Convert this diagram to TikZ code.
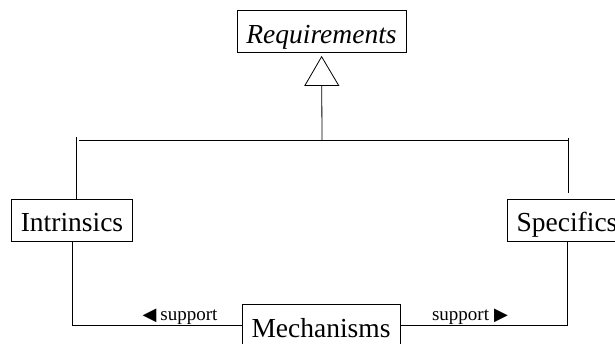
\documentclass[tikz,border=0pt]{standalone}
\usepackage{fontspec}
\setmainfont{Liberation Serif}
\newfontfamily\symfont{DejaVu Sans}
\usetikzlibrary{arrows.meta}

\begin{document}
\begin{tikzpicture}[x=1pt, y=-1pt, line width=0.8pt,
	main/.style = {draw, inner xsep=9.5pt, inner ysep=0pt, minimum height=42pt, text height=24pt, text depth=0.6pt, font=\fontsize{27.5}{32}\selectfont},
	lbl/.style = {anchor=base, inner sep=0pt, font=\fontsize{19}{22}\selectfont}]
	\useasboundingbox (0,0) rectangle (615,343);

		\node[main] (1) at (321.5,31.5) {\textit{Requirements}};
		\node[main] (2) at (72,220) {Intrinsics};
		\node[main] (3) at (567,220) {Specifics};
		\node[main] (4) at (321,325.5) {Mechanisms};

		\coordinate (5) at (322,140);
		\coordinate (6) at (79,140);
		\coordinate (7) at (569,140);
		\coordinate (8) at (76,137);
		\coordinate (9) at (568,138);

		\draw[-{Triangle[open, length=30pt, width=35pt]}, shorten >=3pt] (5) -- (1);
		\draw (6) -- (7);
		\draw (8) -- (8 |- 2.north);
		\draw (9) -- ++(0,55);
		\draw (4.west) -| (2.south);
		\draw (4.east) -| (3.south);

		\node[lbl] (10) at (180,320) {{\symfont\fontsize{18}{18}\selectfont ◀}\hspace{4pt}support};
		\node[lbl] (11) at (470,320) {support\hspace{5pt}{\symfont\fontsize{18}{18}\selectfont ▶}};
	\end{tikzpicture}
\end{document}
